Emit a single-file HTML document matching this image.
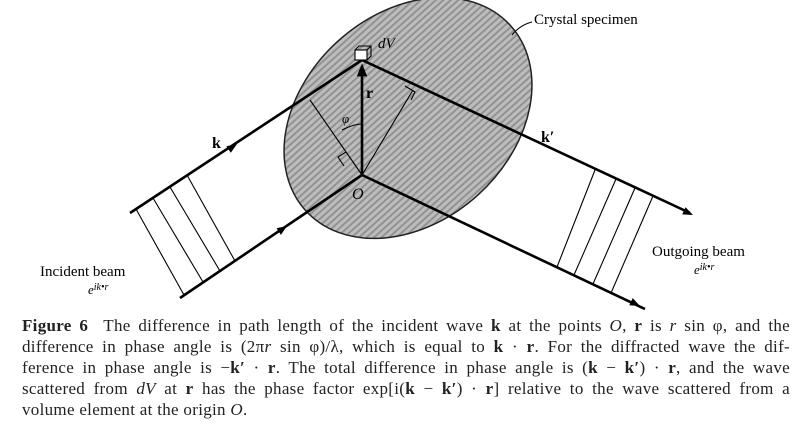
<!DOCTYPE html><html><head><style>
body{margin:0;background:#fff;width:800px;height:448px;overflow:hidden;position:relative;font-family:"Liberation Serif",serif}
.cap{position:absolute;left:22px;top:315px;width:768px;font-size:17px;line-height:21px;color:#222;letter-spacing:0.3px}
.cap div{text-align:justify;text-align-last:justify;white-space:nowrap;overflow:visible}
.cap div.l{text-align-last:left}
</style></head><body>
<svg width="800" height="310" style="position:absolute;left:0;top:0">
<defs><pattern id="p" width="6" height="5" patternUnits="userSpaceOnUse"><rect width="6" height="5" fill="#bdbdbd"/><rect y="3" width="6" height="2" fill="#929292"/></pattern>
<marker id="a" viewBox="0 0 10 10" refX="8" refY="5" markerWidth="5" markerHeight="5" orient="auto"><path d="M0,1L10,5L0,9z" fill="#000"/></marker></defs>
<ellipse cx="408" cy="118" rx="138" ry="104" transform="rotate(-42 408 118)" fill="url(#p)" stroke="#222" stroke-width="1.5"/>
<g stroke="#000" stroke-width="2.6" fill="none">
<line x1="130" y1="213" x2="362" y2="60"/><line x1="180" y1="298" x2="362" y2="175"/>
<line x1="362" y1="60" x2="690" y2="213"/><line x1="362" y1="175" x2="645" y2="309"/>
<line x1="362" y1="175" x2="362" y2="66" marker-end="url(#a)"/>
</g>
<g fill="#000">
<polygon points="237,144 230.8,152.8 226.4,146.2"/>
<polygon points="287,226 280.9,234.9 276.5,228.3"/>
<polygon points="693,215 682.2,214.4 685.6,207.2"/>
<polygon points="640,306 629.3,305.3 632.7,298.1"/>
</g>
<g stroke="#000" stroke-width="1.1" fill="none">
<line x1="310" y1="100" x2="362" y2="175"/><line x1="362" y1="175" x2="413" y2="90"/>
<path d="M346,152 l-8,5 l6,9"/><path d="M405,86 l10,6 l-4,8"/>
<path d="M342,130 q12,-6 20,-6"/>
<line x1="136" y1="209" x2="184" y2="295"/><line x1="153" y1="198" x2="203" y2="282"/><line x1="170" y1="187" x2="220" y2="271"/><line x1="187" y1="175" x2="235" y2="261"/>
<line x1="595" y1="170" x2="557" y2="267"/><line x1="616" y1="179" x2="574" y2="275"/><line x1="635" y1="188" x2="593" y2="284"/><line x1="653" y1="196" x2="611" y2="293"/>
<rect x="355" y="50" width="12" height="10" fill="#fff"/><path d="M355,50 l4,-4 h12 v10 l-4,4 M367,50 l4,-4"/>
<path d="M512,35 q8,-10 20,-13"/>
</g>
<g font-family="Liberation Serif,serif" font-size="16">
<text x="212" y="148" font-weight="bold">k</text><text x="541" y="142" font-weight="bold">k′</text>
<text x="366" y="98" font-weight="bold">r</text><text x="342" y="123" font-size="13" font-style="italic">φ</text>
<text x="352" y="199" font-style="italic">O</text><text x="378" y="48" font-style="italic" font-size="15">dV</text>
<text x="534" y="24" font-size="15">Crystal specimen</text>
<text x="40" y="276" font-size="15">Incident beam</text><text x="88" y="294" font-size="13" font-style="italic">e<tspan font-size="10" dy="-4">ik•r</tspan></text>
<text x="652" y="256" font-size="15">Outgoing beam</text><text x="694" y="274" font-size="13" font-style="italic">e<tspan font-size="10" dy="-4">ik•r</tspan></text>
</g></svg>
<div class="cap">
<div><b>Figure 6</b>&nbsp; The difference in path length of the incident wave <b>k</b> at the points <i>O</i>, <b>r</b> is <i>r</i> sin φ, and the</div>
<div>difference in phase angle is (2π<i>r</i> sin φ)/λ, which is equal to <b>k</b> · <b>r</b>. For the diffracted wave the dif-</div>
<div>ference in phase angle is −<b>k′</b> · <b>r</b>. The total difference in phase angle is (<b>k</b> − <b>k′</b>) · <b>r</b>, and the wave</div>
<div>scattered from <i>dV</i> at <b>r</b> has the phase factor exp[i(<b>k</b> − <b>k′</b>) · <b>r</b>] relative to the wave scattered from a</div>
<div class="l">volume element at the origin <i>O</i>.</div>
</div>
</body></html>
